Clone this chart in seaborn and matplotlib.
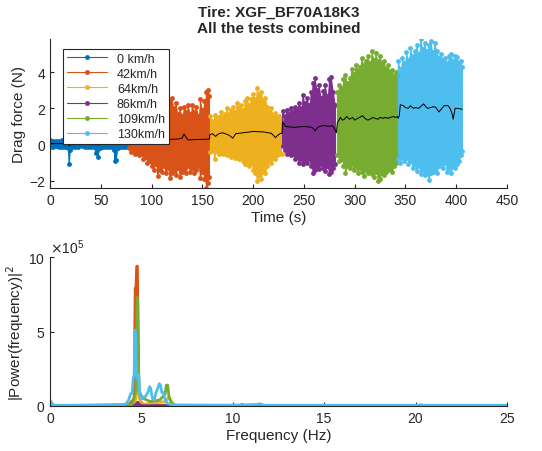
import matplotlib
matplotlib.use("Agg")
import matplotlib.pyplot as plt
from matplotlib.ticker import ScalarFormatter
import pandas as pd
import seaborn as sns

sns.set_style("white")
plt.rcParams['font.family'] = ['Liberation Sans', 'DejaVu Sans']

labels = ['0 km/h', '42km/h', '64km/h', '86km/h', '109km/h', '130km/h']
colors = ['#0072BD', '#D95319', '#EDB120', '#7E2F8E', '#77AC30', '#4DBEEE']

# envelope of the drag force signal for each test (time s, upper N, lower N)
t_0 = [0, 3, 6, 9, 12, 15, 18, 19, 20, 22, 25, 28, 31, 34, 37, 40, 43, 45, 46, 47, 49, 52,
       55, 58, 61, 63, 64, 65, 67, 70, 73, 76, 78]
up_0 = [0.25, 0.2, 0.22, 0.18, 0.24, 0.2, 0.22, 0.15, 0.2, 0.23, 0.18, 0.2, 0.22, 0.17, 0.2,
        0.22, 0.18, 0.2, 0.15, 0.18, 0.22, 0.2, 0.18, 0.23, 0.2, 0.18, 0.12, 0.15, 0.2, 0.22,
        0.18, 0.2, 0.22]
lo_0 = [-0.12, -0.15, -0.1, -0.14, -0.12, -0.15, -0.2, -1.05, -0.3, -0.15, -0.12, -0.14, -0.1,
        -0.15, -0.12, -0.14, -0.15, -0.45, -0.3, -0.7, -0.2, -0.12, -0.15, -0.12, -0.14, -0.3,
        -0.9, -0.85, -0.2, -0.12, -0.15, -0.14, -0.12]

t_42 = [78, 80, 82, 84, 86, 88, 90, 92, 94, 96, 98, 100, 102, 104, 106, 108, 110, 112, 114,
        116, 118, 120, 122, 124, 126, 128, 130, 132, 134, 136, 138, 140, 142, 144, 146, 148,
        150, 152, 154, 156, 157]
up_42 = [0.3, 0.5, 0.4, 0.7, 0.5, 0.9, 0.7, 1.1, 0.9, 1.5, 1.2, 2.2, 2.5, 1.9, 2.3, 1.6, 1.9,
         1.5, 2.1, 1.8, 2.4, 2.6, 2.0, 2.3, 1.7, 2.0, 1.6, 2.1, 1.8, 2.2, 1.7, 2.2, 1.8, 2.1,
         1.6, 2.5, 1.9, 2.4, 2.9, 3.0, 2.7]
lo_42 = [-0.2, -0.4, -0.3, -0.5, -0.4, -0.6, -0.5, -0.8, -0.7, -1.0, -0.9, -1.2, -1.4, -1.1,
         -1.75, -1.4, -1.5, -1.2, -1.6, -1.3, -1.85, -1.6, -1.4, -1.7, -1.3, -1.8, -1.5, -1.4,
         -1.55, -1.2, -1.5, -1.3, -1.6, -1.4, -1.2, -1.85, -1.5, -1.9, -2.4, -2.1, -1.8]

t_64 = [158, 160, 162, 164, 166, 168, 170, 172, 174, 176, 178, 180, 182, 184, 186, 188, 190,
        192, 194, 196, 198, 200, 202, 204, 206, 208, 210, 212, 214, 216, 218, 220, 222, 224,
        226, 228]
up_64 = [1.6, 1.3, 1.65, 1.4, 1.5, 1.8, 1.5, 1.7, 2.0, 1.7, 1.9, 2.1, 1.8, 2.3, 2.0, 2.2, 1.9,
         2.4, 2.6, 2.2, 2.5, 2.8, 2.5, 3.15, 2.7, 2.9, 2.4, 2.6, 2.1, 1.8, 2.0, 1.6, 1.75, 1.5,
         1.6, 1.4]
lo_64 = [-0.4, -0.3, -0.8, -0.35, -0.5, -0.4, -0.55, -0.45, -0.6, -0.5, -0.7, -0.55, -0.75,
         -0.6, -0.8, -0.7, -0.9, -1.1, -0.9, -1.2, -1.0, -1.4, -1.6, -2.0, -1.7, -1.9, -1.5,
         -1.6, -1.2, -0.9, -1.0, -0.75, -0.8, -0.6, -0.55, -0.5]

t_86 = [229, 231, 233, 235, 237, 239, 241, 243, 245, 247, 249, 251, 253, 255, 257, 259, 261,
        263, 265, 267, 269, 271, 273, 275, 277, 279, 281]
up_86 = [1.85, 1.6, 1.9, 1.7, 2.0, 1.8, 2.1, 1.9, 2.3, 2.0, 2.75, 2.3, 2.6, 2.2, 2.9, 3.4, 3.7,
         3.0, 3.3, 2.6, 2.95, 3.3, 2.7, 3.65, 3.75, 2.9, 2.2]
lo_86 = [-0.1, -0.3, -0.5, -0.4, -0.6, -0.5, -0.8, -0.7, -1.0, -0.8, -1.1, -0.9, -1.0, -0.8,
         -1.2, -1.55, -1.4, -1.2, -1.35, -1.1, -1.3, -1.45, -1.2, -1.65, -1.5, -1.3, -1.1]

t_109 = [283, 285, 287, 289, 291, 293, 295, 297, 299, 301, 303, 305, 307, 309, 311, 313, 315,
         317, 319, 321, 323, 325, 327, 329, 331, 333, 335, 337, 339, 341, 343]
up_109 = [2.9, 3.3, 3.1, 3.6, 3.85, 3.4, 3.7, 4.2, 3.9, 4.4, 4.1, 4.3, 4.8, 4.4, 4.6, 4.9, 4.5,
          5.15, 4.7, 5.05, 4.6, 4.9, 4.5, 4.6, 4.2, 4.4, 4.0, 4.1, 3.8, 4.0, 3.85]
lo_109 = [-0.6, -0.9, -0.8, -1.2, -1.55, -1.2, -1.3, -1.1, -1.4, -1.2, -1.55, -1.3, -1.5,
          -1.75, -1.4, -1.6, -1.5, -1.65, -1.8, -1.5, -2.0, -1.9, -1.6, -1.7, -1.5, -1.4,
          -1.3, -1.5, -1.2, -1.0, -0.75]

t_130 = [343, 345, 347, 349, 351, 353, 355, 357, 359, 361, 363, 365, 367, 369, 371, 373, 375,
         377, 379, 381, 383, 385, 387, 389, 391, 393, 395, 397, 399, 401, 403, 405, 406]
up_130 = [4.6, 4.2, 4.8, 4.5, 5.1, 4.7, 5.35, 4.9, 5.2, 5.5, 5.0, 5.85, 5.3, 5.6, 5.2, 5.5,
          5.7, 5.1, 5.6, 5.15, 4.8, 5.0, 4.7, 4.8, 4.5, 4.9, 5.0, 4.6, 4.9, 4.85, 4.5, 4.6, 4.3]
lo_130 = [-0.8, -1.0, -0.7, -0.9, -0.75, -1.1, -0.9, -1.3, -1.1, -1.45, -1.2, -1.65, -1.4,
          -1.7, -1.5, -1.95, -1.6, -1.5, -1.4, -1.6, -1.2, -1.1, -1.3, -1.0, -1.5, -1.3, -1.6,
          -1.2, -1.3, -1.1, -0.9, -0.6, -0.35]

seg_t = [t_0, t_42, t_64, t_86, t_109, t_130]
seg_up = [up_0, up_42, up_64, up_86, up_109, up_130]
seg_lo = [lo_0, lo_42, lo_64, lo_86, lo_109, lo_130]

# running mean (black line)
avg_t = [0, 10, 18, 19, 21, 30, 40, 46, 47, 48, 60, 64, 66, 78, 85, 95, 110, 125, 130, 132,
         134, 136, 145, 157, 157.5, 160, 163, 166, 170, 175, 178, 180, 183, 190, 200, 210,
         218, 221, 222, 224, 227, 228.5, 229, 232, 240, 250, 258, 260, 261, 263, 265, 270,
         275, 278, 280, 282, 283, 286, 288, 290, 292, 295, 298, 300, 303, 305, 308, 310,
         313, 315, 318, 320, 323, 325, 328, 330, 333, 335, 338, 340, 342, 343, 344, 345,
         348, 350, 353, 355, 358, 360, 363, 365, 368, 370, 372, 375, 378, 380, 383, 386,
         388, 392, 394, 396, 397, 399, 402, 406]
avg_y = [0.05, 0.05, 0.05, -0.08, 0.05, 0.05, 0.05, 0.02, -0.02, 0.04, 0.05, 0.0, 0.05,
         0.1, 0.22, 0.25, 0.28, 0.3, 0.35, 0.58, 0.4, 0.25, 0.28, 0.3, 0.55, 0.6, 0.45, 0.6,
         0.65, 0.55, 0.45, 0.35, 0.6, 0.65, 0.72, 0.7, 0.62, 0.45, 0.38, 0.5, 0.62, 0.62,
         1.25, 1.0, 0.95, 1.0, 0.95, 0.85, 0.75, 0.9, 1.0, 1.05, 1.0, 1.05, 0.9, 0.65, 1.2,
         1.5, 1.35, 1.4, 1.55, 1.4, 1.5, 1.35, 1.45, 1.5, 1.6, 1.45, 1.35, 1.4, 1.5, 1.45,
         1.4, 1.5, 1.45, 1.5, 1.45, 1.5, 1.55, 1.5, 1.55, 1.45, 1.6, 2.2, 2.15, 2.05, 2.0,
         2.15, 2.0, 2.05, 2.0, 2.1, 2.25, 2.1, 2.0, 2.05, 2.1, 2.05, 1.8, 2.0, 2.15, 2.15,
         2.0, 1.7, 1.4, 2.0, 2.0, 1.95]

# power spectra per test
f_0 = [0, 0.05, 0.2, 0.5, 25]
p_0 = [0.25e5, 0.15e5, 0.04e5, 0.02e5, 0.02e5]
f_42 = [0, 4.3, 4.6, 4.66, 4.7, 4.74, 4.78, 4.82, 4.86, 4.92, 5.0, 5.2, 25]
p_42 = [0.02e5, 0.05e5, 0.5e5, 7.9e5, 7.9e5, 9.4e5, 9.4e5, 4.8e5, 1.0e5, 0.5e5,
        0.2e5, 0.05e5, 0.02e5]
f_64 = [0, 4.6, 4.7, 4.8, 4.9, 5.0, 6.3, 6.5, 6.6, 6.8, 25]
p_64 = [0.02e5, 0.02e5, 0.5e5, 1.5e5, 0.5e5, 0.1e5, 0.3e5, 0.6e5, 0.4e5, 0.05e5, 0.02e5]
f_86 = [0, 4.6, 4.7, 4.8, 4.9, 5.0, 25]
p_86 = [0.02e5, 0.02e5, 0.1e5, 0.25e5, 0.1e5, 0.02e5, 0.02e5]
f_109 = [0, 4.5, 4.7, 4.76, 4.8, 4.84, 4.88, 4.95, 5.1, 5.5, 6.0, 6.3, 6.36, 6.44, 6.5,
         6.6, 6.8, 10.4, 10.5, 10.6, 25]
p_109 = [0.02e5, 0.1e5, 1.0e5, 7.3e5, 7.2e5, 3.0e5, 1.0e5, 0.8e5, 0.5e5, 0.3e5, 0.4e5,
         0.8e5, 1.4e5, 1.4e5, 0.7e5, 0.3e5, 0.05e5, 0.02e5, 0.12e5, 0.02e5, 0.02e5]
f_130 = [0, 0.05, 0.15, 0.3, 4.0, 4.2, 4.3, 4.4, 4.5, 4.55, 4.6, 4.64, 4.68, 4.72, 4.76,
         4.8, 4.85, 4.9, 4.95, 5.05, 5.2, 5.35, 5.45, 5.5, 5.6, 5.7, 5.8, 5.9, 5.98, 6.05,
         6.12, 6.2, 6.28, 6.4, 6.6, 7.0, 10.0, 11.3, 11.5, 11.7, 12, 20.2, 20.3, 20.4, 25]
p_130 = [0.4e5, 0.3e5, 0.1e5, 0.05e5, 0.05e5, 0.2e5, 0.4e5, 0.8e5, 0.9e5, 1.9e5, 2.0e5,
         5.1e5, 4.9e5, 2.2e5, 2.0e5, 1.8e5, 2.1e5, 1.0e5, 0.5e5, 0.6e5, 0.6e5, 0.9e5, 1.3e5,
         1.2e5, 0.5e5, 0.4e5, 0.9e5, 1.2e5, 1.5e5, 1.4e5, 0.9e5, 0.9e5, 0.5e5, 0.2e5, 0.1e5,
         0.05e5, 0.05e5, 0.1e5, 0.15e5, 0.05e5, 0.05e5, 0.05e5, 0.1e5, 0.05e5, 0.05e5]

spec_f = [f_0, f_42, f_64, f_86, f_109, f_130]
spec_p = [p_0, p_42, p_64, p_86, p_109, p_130]

fig = plt.figure(figsize=(5.42, 4.52), dpi=100)
ax1 = fig.add_axes([0.0923, 0.582, 0.843, 0.33])
ax2 = fig.add_axes([0.0923, 0.0996, 0.843, 0.329])

for t, up, lo, lab, c in zip(seg_t, seg_up, seg_lo, labels, colors):
    ax1.fill_between(t, lo, up, color=c, linewidth=0)
    zx, zy = [], []
    for ti, u, l in zip(t, up, lo):
        zx += [ti, ti]
        zy += [l, u]
    df = pd.DataFrame({'t': zx, 'y': zy})
    sns.lineplot(data=df, x='t', y='y', sort=False, estimator=None, color=c,
                 marker='.', markersize=7, markeredgewidth=0, linewidth=0.8,
                 label=lab, ax=ax1)

sns.lineplot(x=avg_t, y=avg_y, sort=False, estimator=None, color='black',
             linewidth=0.7, ax=ax1)

ax1.set_xlim(0, 450)
ax1.set_ylim(-2.4, 5.85)
ax1.set_xticks(range(0, 451, 50))
ax1.set_yticks([-2, 0, 2, 4])
ax1.set_xlabel('Time (s)', fontsize=11, color='#262626', labelpad=2)
ax1.set_ylabel('Drag force (N)', fontsize=11, color='#262626', labelpad=2)
ax1.set_title('Tire: XGF_BF70A18K3\nAll the tests combined', fontsize=11,
              fontweight='bold', pad=5, linespacing=1.15)
leg = ax1.legend(loc='upper left', fontsize=9, frameon=True, fancybox=False,
                 edgecolor='#262626', framealpha=1, handlelength=3.2,
                 borderpad=0.3, labelspacing=0.25, bbox_to_anchor=(0.015, 0.975))
leg.get_frame().set_linewidth(0.8)

for f, p, c in zip(spec_f, spec_p, colors):
    sns.lineplot(x=f, y=p, sort=False, estimator=None, color=c, linewidth=2, ax=ax2)

ax2.set_xlim(0, 25)
ax2.set_ylim(0, 1e6)
ax2.set_xticks(range(0, 26, 5))
ax2.set_yticks([0, 5e5, 10e5])
fmt = ScalarFormatter(useMathText=True)
fmt.set_powerlimits((5, 5))
ax2.yaxis.set_major_formatter(fmt)
ax2.set_xlabel('Frequency (Hz)', fontsize=11, color='#262626', labelpad=2)
ax2.set_ylabel('|Power(frequency)|$^2$', fontsize=11, color='#262626', labelpad=2)

for ax in (ax1, ax2):
    sns.despine(ax=ax)
    for s in ('left', 'bottom'):
        ax.spines[s].set_color('#262626')
        ax.spines[s].set_linewidth(0.8)
    ax.tick_params(direction='in', length=3, width=0.8, colors='#262626',
                   labelsize=10, bottom=True, left=True)

fig.savefig('out.png', dpi=100)
